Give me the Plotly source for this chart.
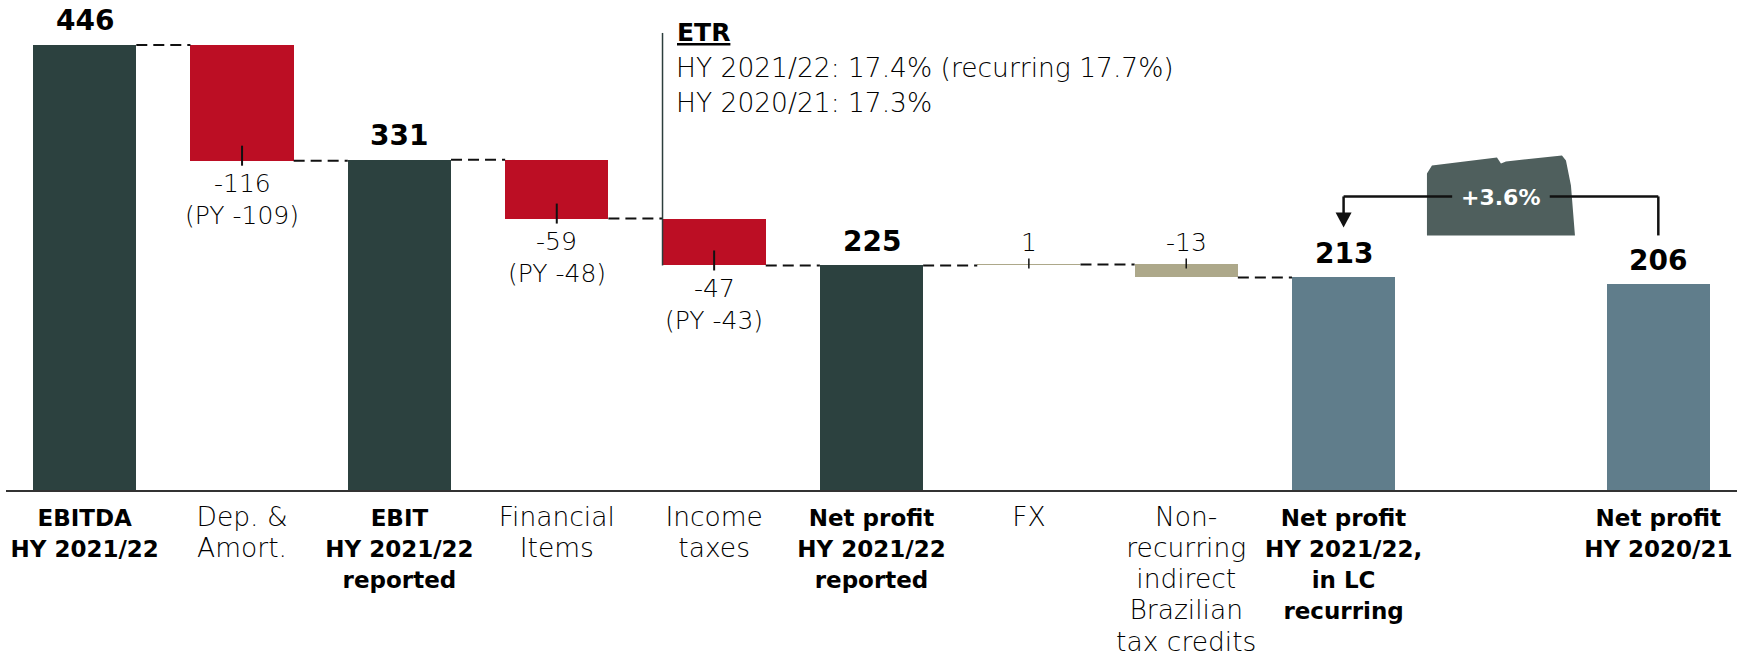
import plotly.graph_objects as go

# ---------------- data ----------------
categories = [
    ["EBITDA", "HY 2021/22"],
    ["Dep. &", "Amort."],
    ["EBIT", "HY 2021/22", "reported"],
    ["Financial", "Items"],
    ["Income", "taxes"],
    ["Net profit", "HY 2021/22", "reported"],
    ["FX"],
    ["Non-", "recurring", "indirect", "Brazilian", "tax credits"],
    ["Net profit", "HY 2021/22,", "in LC", "recurring"],
    ["Net profit", "HY 2020/21"],
]
values = [446, -116, 331, -59, -47, 225, 1, -13, 213, 206]
is_total = [True, False, True, False, False, True, False, False, True, True]
py_values = [None, -109, None, -48, -43, None, None, None, None, None]
positions = [0, 1, 2, 3, 4, 5, 6, 7, 8, 10]
etr_title = "ETR"
etr_lines = ["HY 2021/22: 17.4% (recurring 17.7%)", "HY 2020/21: 17.3%"]
growth_label = "+3.6%"

# ---------------- styles ----------------
DARK = "#2C413F"
RED = "#BC0E24"
TAN = "#ADA88A"
SLATE = "#607D8B"
BADGE = "#4F5F5D"
TXT = "#000000"
FONT = "DejaVu Sans"
bar_colors = [DARK, RED, DARK, RED, RED, DARK, TAN, TAN, SLATE, SLATE]
W = 0.656

FIG_W, FIG_H = 1744, 657
M_L, M_R, M_T, M_B = 6, 7, 10, 167


def tick_label(lines, bold):
    if bold:
        return "<br>".join(f"<span style='font-size:23px'><b>{t}</b></span>" for t in lines)
    return "<br>".join(f"<span style='font-size:26.5px'>{t}</span>" for t in lines)


ticktext = [tick_label(c, b) for c, b in zip(categories, is_total)]

# ---------------- waterfall geometry ----------------
bases, heights, ends = [], [], []
level = 0
for v, tot in zip(values, is_total):
    if tot:
        bases.append(0)
        heights.append(v)
        level = v
    else:
        bases.append(level)
        heights.append(v)
        level = level + v
    ends.append(level)

fig = go.Figure()
fig.add_trace(go.Bar(
    x=positions, y=heights, base=bases, width=W,
    marker=dict(color=bar_colors, line=dict(width=0)),
    hoverinfo="skip", showlegend=False,
))

shapes = []
annotations = []

# connectors
for i in range(len(values) - 1):
    if positions[i + 1] - positions[i] == 1:
        shapes.append(dict(
            type="line", xref="x", yref="y",
            x0=positions[i] + W / 2, x1=positions[i + 1] - W / 2,
            y0=ends[i], y1=ends[i],
            line=dict(color="#111", width=2, dash="11px,6px"),
        ))

# labels
for i, (p, v, tot) in enumerate(zip(positions, values, is_total)):
    if tot:
        annotations.append(dict(
            x=p, y=v, xref="x", yref="y", text=f"<b>{v}</b>", showarrow=False,
            yanchor="middle", yshift=24, font=dict(family=FONT, size=28, color=TXT),
        ))
    else:
        lo = min(bases[i], bases[i] + v)
        hi = max(bases[i], bases[i] + v)
        if py_values[i] is not None:
            shapes.append(dict(
                type="line", xref="x", yref="y", ysizemode="pixel", yanchor=lo,
                x0=p, x1=p, y0=-5, y1=15, line=dict(color="#111", width=2),
            ))
            annotations.append(dict(
                x=p, y=lo, xref="x", yref="y", text=f"{v}", showarrow=False,
                yanchor="middle", yshift=-23, font=dict(family=FONT, size=25, color=TXT, weight=300),
            ))
            annotations.append(dict(
                x=p, y=lo, xref="x", yref="y", text=f"(PY {py_values[i]})", showarrow=False,
                yanchor="middle", yshift=-55, font=dict(family=FONT, size=25, color=TXT, weight=300),
            ))
        else:
            shapes.append(dict(
                type="line", xref="x", yref="y", ysizemode="pixel", yanchor=hi,
                x0=p, x1=p, y0=-4, y1=6, line=dict(color="#111", width=1.5),
            ))
            annotations.append(dict(
                x=p, y=hi, xref="x", yref="y", text=f"{v}", showarrow=False,
                yanchor="middle", yshift=22, font=dict(family=FONT, size=25, color=TXT, weight=300),
            ))

# ETR annotation
tax_i = 4
etr_x = positions[tax_i] - W / 2
shapes.append(dict(
    type="line", xref="x", yref="y",
    x0=etr_x, x1=etr_x, y0=ends[tax_i], y1=values[0] + 12,
    line=dict(color="#2C3E3C", width=1.5),
))
annotations.append(dict(
    x=etr_x, y=values[0], xref="x", yref="y", text=f"<b>{etr_title}</b>", showarrow=False,
    xanchor="left", yanchor="middle", xshift=12, yshift=12,
    font=dict(family=FONT, size=25, color=TXT, lineposition="under"),
))
for k, line in enumerate(etr_lines):
    annotations.append(dict(
        x=etr_x, y=values[0], xref="x", yref="y", text=line, showarrow=False,
        xanchor="left", yanchor="middle", xshift=11, yshift=-23 - 35 * k,
        font=dict(family=FONT, size=26.5, color=TXT, weight=300),
    ))

# growth badge & arrow between recurring net profit and previous year
a_i, b_i = 8, 9
xa, xb = positions[a_i], positions[b_i]
xm = (xa + xb) / 2
anchor = values[a_i]
badge_pts = [(-74, 42), (-74, 104), (-69, 112), (-4, 120), (0, 114), (5, 116),
             (61, 122), (65, 117), (70, 92), (74, 42)]
path = "M " + " L ".join(f"{x},{y}" for x, y in badge_pts) + " Z"
shapes.append(dict(
    type="path", xref="x", yref="y", xsizemode="pixel", ysizemode="pixel",
    xanchor=xm, yanchor=anchor, path=path,
    fillcolor=BADGE, line=dict(width=0), layer="above",
))
ARR = dict(color="#111", width=2.5)
gap = 0.31
shapes.append(dict(type="line", xref="x", yref="y", ysizemode="pixel", yanchor=anchor,
                   x0=xa, x1=xm - gap, y0=81, y1=81, line=ARR))
shapes.append(dict(type="line", xref="x", yref="y", ysizemode="pixel", yanchor=anchor,
                   x0=xm + gap, x1=xb, y0=81, y1=81, line=ARR))
shapes.append(dict(type="line", xref="x", yref="y", ysizemode="pixel", yanchor=anchor,
                   x0=xb, x1=xb, y0=42, y1=81, line=ARR))
shapes.append(dict(type="line", xref="x", yref="y", ysizemode="pixel", yanchor=anchor,
                   x0=xa, x1=xa, y0=62, y1=81, line=ARR))
shapes.append(dict(
    type="path", xref="x", yref="y", xsizemode="pixel", ysizemode="pixel",
    xanchor=xa, yanchor=anchor, path="M -8,65 L 8,65 L 0,50 Z",
    fillcolor="#111", line=dict(width=0),
))
annotations.append(dict(
    x=xm, y=anchor, xref="x", yref="y", text=f"<b>{growth_label}</b>", showarrow=False,
    yanchor="middle", yshift=80, font=dict(family=FONT, size=22, color="white"),
))

fig.update_layout(
    width=FIG_W, height=FIG_H,
    margin=dict(l=M_L, r=M_R, t=M_T, b=M_B),
    paper_bgcolor="white", plot_bgcolor="white",
    shapes=shapes, annotations=annotations,
    xaxis=dict(
        range=[-0.5, 10.5], tickmode="array", tickvals=positions, ticktext=ticktext,
        showline=True, linecolor="#333", linewidth=2, ticks="", showgrid=False,
        zeroline=False, ticklabelstandoff=5, automargin=False, fixedrange=True,
        tickfont=dict(family=FONT, size=24, color=TXT, weight=300),
    ),
    yaxis=dict(range=[0, 481], visible=False, showgrid=False, zeroline=False,
               automargin=False, fixedrange=True),
    bargap=0,
)

fig.write_html(
    "out.html",
    config={"displayModeBar": False, "staticPlot": True},
    post_script="document.body.style.margin='0px';document.body.style.overflow='hidden';",
)
